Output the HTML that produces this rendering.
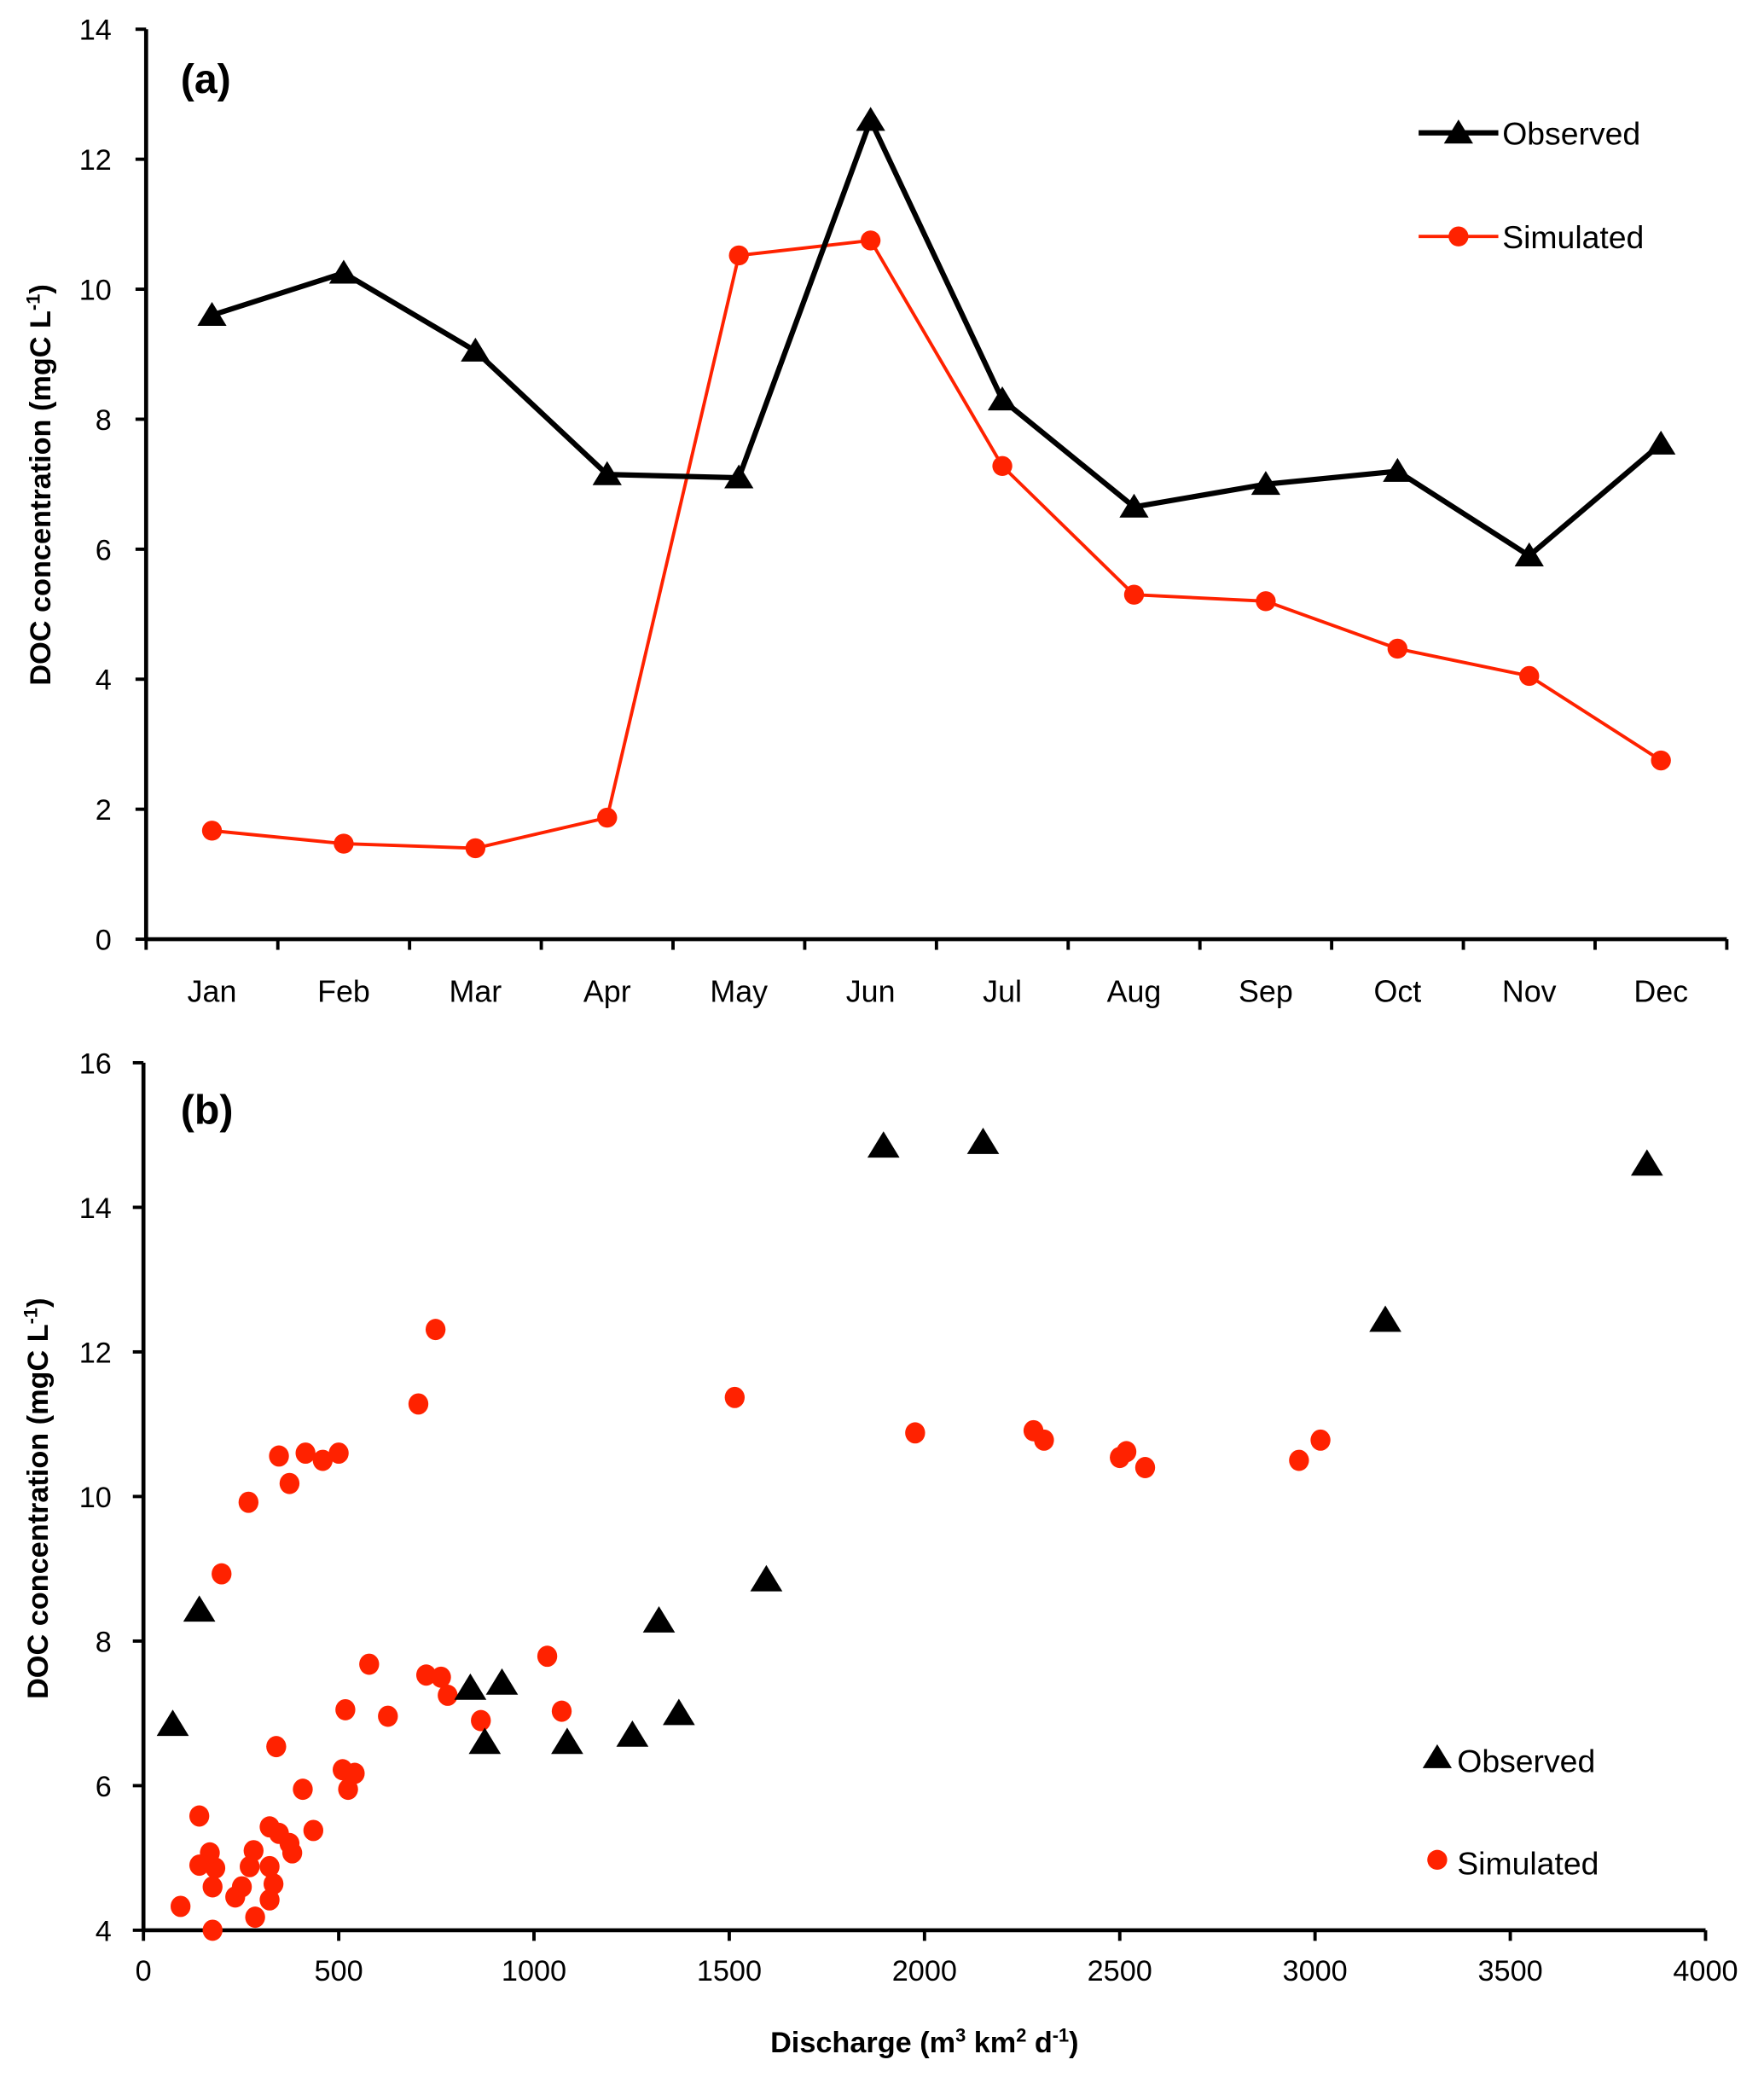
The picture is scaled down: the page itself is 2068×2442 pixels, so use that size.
<!DOCTYPE html>
<html><head><meta charset="utf-8"><style>
html,body{margin:0;padding:0;background:#fff;}
svg{display:block;font-family:"Liberation Sans",Arial,sans-serif;}
</style></head><body>
<svg id="chart" width="2068" height="2442" viewBox="0 0 1328 1568" preserveAspectRatio="none" xmlns="http://www.w3.org/2000/svg">
<rect width="1328" height="1568" fill="#fff"/>
<g id="pa"></g>
<g id="pb"></g>
</svg>
<script>
const months=["Jan","Feb","Mar","Apr","May","Jun","Jul","Aug","Sep","Oct","Nov","Dec"];
const obsA=[9.6,10.25,9.05,7.15,7.1,12.6,8.3,6.65,7.0,7.2,5.9,7.62];
const simA=[1.67,1.47,1.4,1.87,10.52,10.75,7.28,5.3,5.2,4.47,4.05,2.75];
const yTicksA=[0,2,4,6,8,10,12,14];
const obsBx=[75,143,837,874,918,1085,1252,1320,1371,1595,1895,2150,3180,3850];
const obsBy=[6.85,8.43,7.35,6.6,7.42,6.6,6.7,8.28,7.0,8.85,14.85,14.9,12.44,14.6];
const simBx=[95,143,143,177,177,184,170,200,235,252,269,272,282,286,323,323,323,333,340,347,347,374,374,381,408,415,435,459,500,510,517,524,541,578,626,704,724,748,762,779,864,1034,1071,1514,1976,2279,2306,2500,2517,2565,2959,3014];
const simBy=[4.33,5.58,4.9,4.0,4.6,4.86,5.07,8.93,4.46,4.6,9.92,4.88,5.1,4.18,5.43,4.88,4.42,4.64,6.54,10.56,5.34,5.2,10.18,5.07,5.95,10.6,5.38,10.5,10.6,6.22,7.05,5.95,6.17,7.68,6.96,11.28,7.53,12.31,7.5,7.25,6.9,7.79,7.03,11.37,10.88,10.91,10.78,10.54,10.62,10.4,10.5,10.78];
const xTicksB=[0,500,1000,1500,2000,2500,3000,3500,4000];
const yTicksB=[4,6,8,10,12,14,16];
const RED="#ff2200";
const NS="http://www.w3.org/2000/svg";
function mk(p,t,a,txt){const e=document.createElementNS(NS,t);for(const k in a)e.setAttribute(k,a[k]);if(txt!==undefined)e.textContent=txt;p.appendChild(e);return e;}
function tri(p,x,y,s){return mk(p,"polygon",{points:`${x},${y-s} ${x-s*1.1},${y+s*0.8} ${x+s*1.1},${y+s*0.8}`,fill:"#000"});}

// Panel A
const pa=document.getElementById("pa");
const ax0=110,ax1=1300,ay0=707,ay1=22;
const xa=i=>ax0+(ax1-ax0)/months.length*(i+0.5);
const ya=v=>ay0-(ay0-ay1)*v/14;
let e;
e=mk(pa,"line",{x1:ax0,y1:ay1,x2:ax0,y2:ay0,stroke:"#000","stroke-width":3});

e=mk(pa,"line",{x1:ax0,y1:ay0,x2:ax1,y2:ay0,stroke:"#000","stroke-width":3});

yTicksA.forEach(v=>{mk(pa,"line",{x1:ax0-8,y1:ya(v),x2:ax0,y2:ya(v),stroke:"#000","stroke-width":2.5});
 e=mk(pa,"text",{x:ax0-26,y:ya(v)+8,"text-anchor":"end","font-size":22},v);
 });
for(let i=0;i<=months.length;i++){const x=ax0+(ax1-ax0)/months.length*i;mk(pa,"line",{x1:x,y1:ay0,x2:x,y2:ay0+8,stroke:"#000","stroke-width":2.5});}
months.forEach((m,i)=>{e=mk(pa,"text",{x:xa(i),y:754,"text-anchor":"middle","font-size":23},m);
 });
e=mk(pa,"text",{transform:`translate(38,365) rotate(-90)`,"text-anchor":"middle","font-size":22,"font-weight":"bold"});
e.innerHTML='DOC concentration (mgC L<tspan dy="-8" font-size="14">-1</tspan><tspan dy="8">)</tspan>';

e=mk(pa,"text",{x:136,y:70,"font-size":31,"font-weight":"bold"},"(a)");

e=mk(pa,"polyline",{points:simA.map((v,i)=>xa(i)+","+ya(v)).join(" "),fill:"none",stroke:RED,"stroke-width":2.5});

simA.forEach((v,i)=>{e=mk(pa,"circle",{cx:xa(i),cy:ya(v),r:7.5,fill:RED});
 });
e=mk(pa,"polyline",{points:obsA.map((v,i)=>xa(i)+","+ya(v)).join(" "),fill:"none",stroke:"#000","stroke-width":4});

obsA.forEach((v,i)=>{e=tri(pa,xa(i),ya(v),10);
 });
// legend A
const lgA=mk(pa,"g",{});
mk(lgA,"line",{x1:1068,y1:100,x2:1128,y2:100,stroke:"#000","stroke-width":4});tri(lgA,1098,100,10);
mk(lgA,"text",{x:1131,y:109,"font-size":24},"Observed");
mk(lgA,"line",{x1:1068,y1:178,x2:1128,y2:178,stroke:RED,"stroke-width":2.5});mk(lgA,"circle",{cx:1098,cy:178,r:7.5,fill:RED});
mk(lgA,"text",{x:1131,y:187,"font-size":24},"Simulated");

// Panel B
const pb=document.getElementById("pb");
const bx0=108,bx1=1284,by0=1453,by1=800;
const xb=v=>bx0+(bx1-bx0)*v/4000;
const yb=v=>by0-(by0-by1)*(v-4)/12;
e=mk(pb,"line",{x1:bx0,y1:by1,x2:bx0,y2:by0,stroke:"#000","stroke-width":3});

e=mk(pb,"line",{x1:bx0,y1:by0,x2:bx1,y2:by0,stroke:"#000","stroke-width":3});

yTicksB.forEach(v=>{mk(pb,"line",{x1:bx0-8,y1:yb(v),x2:bx0,y2:yb(v),stroke:"#000","stroke-width":2.5});
 e=mk(pb,"text",{x:bx0-24,y:yb(v)+8,"text-anchor":"end","font-size":22},v);
 });
xTicksB.forEach(v=>{mk(pb,"line",{x1:xb(v),y1:by0,x2:xb(v),y2:by0+8,stroke:"#000","stroke-width":2.5});
 e=mk(pb,"text",{x:xb(v),y:by0+38,"text-anchor":"middle","font-size":22},v);
 });
e=mk(pb,"text",{transform:`translate(36,1128) rotate(-90)`,"text-anchor":"middle","font-size":22,"font-weight":"bold"});
e.innerHTML='DOC concentration (mgC L<tspan dy="-8" font-size="14">-1</tspan><tspan dy="8">)</tspan>';

e=mk(pb,"text",{x:696,y:1545,"text-anchor":"middle","font-size":22,"font-weight":"bold"});
e.innerHTML='Discharge (m<tspan dy="-8" font-size="14">3</tspan><tspan dy="8"> km</tspan><tspan dy="-8" font-size="14">2</tspan><tspan dy="8"> d</tspan><tspan dy="-8" font-size="14">-1</tspan><tspan dy="8">)</tspan>';

e=mk(pb,"text",{x:136,y:846,"font-size":31,"font-weight":"bold"},"(b)");

simBx.forEach((x,i)=>{e=mk(pb,"ellipse",{cx:xb(x),cy:yb(simBy[i]),rx:7.5,ry:8,fill:RED});
 });
obsBx.forEach((x,i)=>{e=tri(pb,xb(x),yb(obsBy[i]),11);
 });
const lgB=mk(pb,"g",{});
tri(lgB,1082,1323,10);mk(lgB,"text",{x:1097,y:1334,"font-size":24},"Observed");
mk(lgB,"circle",{cx:1082,cy:1400,r:7.5,fill:RED});mk(lgB,"text",{x:1097,y:1411,"font-size":24},"Simulated");
</script>
</body></html>
